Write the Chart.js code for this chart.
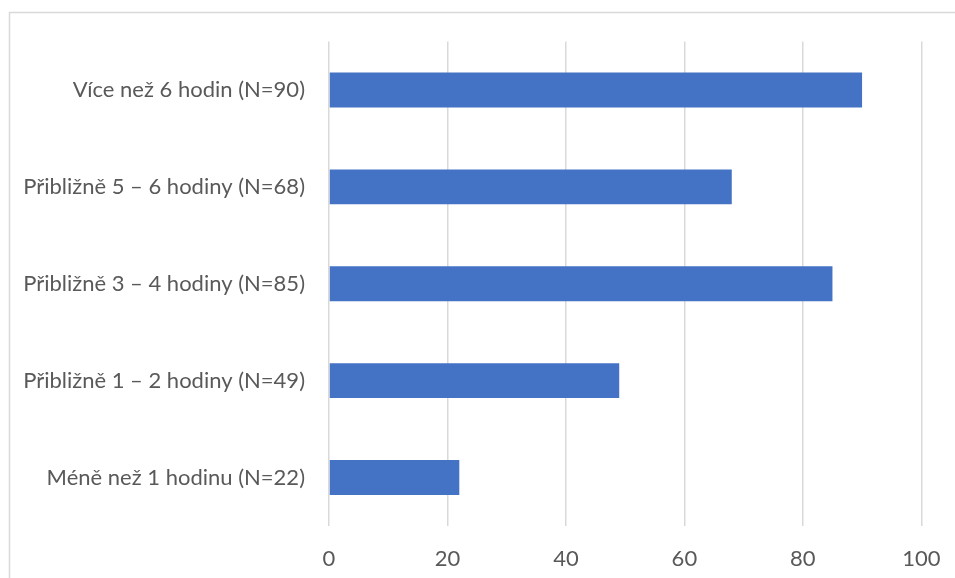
<!DOCTYPE html>
<html>
<head>
<meta charset="utf-8">
<script src="https://cdn.jsdelivr.net/npm/chart.js@4"></script>
<style>
  html, body { margin: 0; padding: 0; background: #ffffff; }
  #wrap { width: 955px; height: 578px; position: relative; }
</style>
</head>
<body>
<div id="wrap"><canvas id="c" width="955" height="578"></canvas></div>
<script>
// Time spent per day, respondents per group
const categories = [
  'Více než 6 hodin (N=90)',
  'Přibližně 5 – 6 hodiny (N=68)',
  'Přibližně 3 – 4 hodiny (N=85)',
  'Přibližně 1 – 2 hodiny (N=49)',
  'Méně než 1 hodinu (N=22)'
];
const counts = [90, 68, 85, 49, 22];
const xTicks = [0, 20, 40, 60, 80, 100];

const FONT = 'Lato, "Liberation Sans", sans-serif';
const TEXT = '#595959';
const GRID = '#d9d9d9';

// Plot area edges in canvas pixels
const PLOT_LEFT = 329;
const PLOT_RIGHT = 921.3;

// Light frame around the chart
const framePlugin = {
  id: 'frame',
  beforeDraw(chart) {
    const ctx = chart.ctx;
    ctx.save();
    ctx.fillStyle = '#ffffff';
    ctx.fillRect(0, 0, chart.width, chart.height);
    ctx.strokeStyle = GRID;
    ctx.lineWidth = 1.5;
    ctx.strokeRect(9.5, 12.5, chart.width + 20, chart.height + 20);
    ctx.restore();
  }
};

new Chart(document.getElementById('c'), {
  type: 'bar',
  data: {
    labels: categories,
    datasets: [{
      data: counts,
      backgroundColor: '#4472C4',
      borderWidth: 0,
      categoryPercentage: 1,
      barPercentage: 0.36
    }]
  },
  plugins: [framePlugin],
  options: {
    indexAxis: 'y',
    responsive: false,
    animation: false,
    devicePixelRatio: 1,
    layout: { padding: { top: 41.5, right: 955 - PLOT_RIGHT, bottom: 0, left: 0 } },
    plugins: { legend: { display: false }, tooltip: { enabled: false } },
    scales: {
      x: {
        min: 0,
        max: 100,
        afterBuildTicks(scale) { scale.ticks = xTicks.map(v => ({ value: v })); },
        afterFit(scale) { scale.height = 52; scale.paddingLeft = 0; scale.paddingRight = 0; },
        grid: { color: GRID, lineWidth: 1.5, drawTicks: false },
        border: { display: false },
        ticks: { color: TEXT, font: { family: FONT, size: 22 }, padding: 20, maxRotation: 0 }
      },
      y: {
        afterFit(scale) { scale.width = PLOT_LEFT; },
        grid: { display: false, drawTicks: false },
        border: { display: false },
        ticks: { color: TEXT, font: { family: FONT, size: 22 }, padding: 24 }
      }
    }
  }
});
</script>
</body>
</html>
